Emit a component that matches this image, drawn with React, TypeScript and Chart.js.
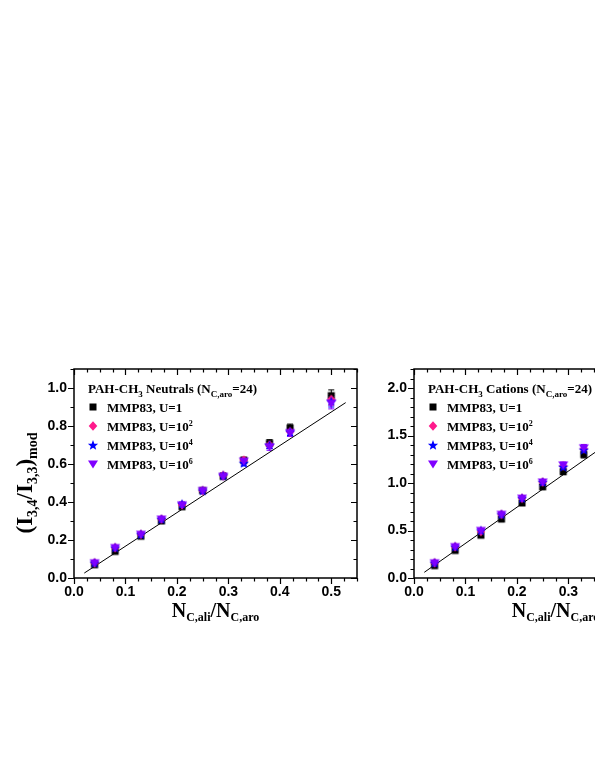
import React, { useEffect, useRef } from "react";
import { Chart, registerables } from "chart.js";
Chart.register(...registerables);

// ---------- data ----------
const xTickValues = [0, 0.1, 0.2, 0.3, 0.4, 0.5];
const xTickLabels = ["0.0", "0.1", "0.2", "0.3", "0.4", "0.5"];
const xMinorStep = 0.025;

const yTickValuesNeutral = [0, 0.2, 0.4, 0.6, 0.8, 1.0];
const yTickLabelsNeutral = ["0.0", "0.2", "0.4", "0.6", "0.8", "1.0"];
const yMinorStepNeutral = 0.1;

const yTickValuesCation = [0, 0.5, 1.0, 1.5, 2.0];
const yTickLabelsCation = ["0.0", "0.5", "1.0", "1.5", "2.0"];
const yMinorStepCation = 0.1;

const seriesNames = ["MMP83, U=1", "MMP83, U=10", "MMP83, U=10", "MMP83, U=10"];
const seriesSup = ["", "2", "4", "6"];
const seriesColors = ["#000000", "#ff1a8c", "#0000ff", "#8000ff"];
const seriesShapes = ["square", "diamond", "star", "tri"];

// Neutrals panel
const neutralX = [0.04, 0.08, 0.13, 0.17, 0.21, 0.25, 0.29, 0.33, 0.38, 0.42, 0.5];
const neutralU1 = [0.07, 0.14, 0.22, 0.3, 0.375, 0.46, 0.535, 0.62, 0.71, 0.79, 0.96];
const neutralU2 = [0.08, 0.16, 0.23, 0.31, 0.385, 0.46, 0.54, 0.62, 0.7, 0.77, 0.94];
const neutralU4 = [0.08, 0.16, 0.23, 0.31, 0.39, 0.46, 0.54, 0.605, 0.7, 0.77, 0.93];
const neutralU6 = [0.08, 0.16, 0.23, 0.31, 0.385, 0.46, 0.535, 0.615, 0.69, 0.765, 0.92];
const neutralErr = [0.006, 0.007, 0.008, 0.009, 0.01, 0.011, 0.012, 0.015, 0.018, 0.02, 0.03];
const neutralFitX = [0.02, 0.528];
const neutralFitY = [0.026, 0.923];

// Cations panel
const cationX = [0.04, 0.08, 0.13, 0.17, 0.21, 0.25, 0.29, 0.33];
const cationU1 = [0.13, 0.29, 0.45, 0.62, 0.79, 0.96, 1.12, 1.3];
const cationU2 = [0.16, 0.33, 0.49, 0.67, 0.84, 1.01, 1.18, 1.36];
const cationU4 = [0.16, 0.33, 0.5, 0.67, 0.84, 1.01, 1.17, 1.35];
const cationU6 = [0.16, 0.33, 0.5, 0.67, 0.84, 1.01, 1.19, 1.37];
const cationErr = [0.012, 0.015, 0.018, 0.02, 0.022, 0.025, 0.03, 0.035];
const cationFitX = [0.02, 0.53];
const cationFitY = [0.06, 2.0];

// ---------- helpers ----------
type Seg = { t: string; s: number; dy: number };
const SERIF = "'Liberation Serif', 'Times New Roman', serif";
const SANS = "'Liberation Sans', Arial, sans-serif";

function richWidth(ctx: CanvasRenderingContext2D, segs: Seg[], fam: string) {
  let w = 0;
  for (const sg of segs) {
    ctx.font = `bold ${sg.s}px ${fam}`;
    w += ctx.measureText(sg.t).width;
  }
  return w;
}
function drawRich(ctx: CanvasRenderingContext2D, segs: Seg[], x: number, y: number, fam: string, align: string) {
  let cx = align === "center" ? x - richWidth(ctx, segs, fam) / 2 : x;
  ctx.textAlign = "left";
  ctx.textBaseline = "alphabetic";
  for (const sg of segs) {
    ctx.font = `bold ${sg.s}px ${fam}`;
    ctx.fillText(sg.t, cx, y + sg.dy);
    cx += ctx.measureText(sg.t).width;
  }
}

function makeMarker(shape: string, color: string): HTMLCanvasElement {
  const c = document.createElement("canvas");
  const S = 14;
  c.width = S;
  c.height = S;
  const g = c.getContext("2d")!;
  g.fillStyle = color;
  const m = S / 2;
  g.beginPath();
  if (shape === "square") {
    g.rect(m - 3.5, m - 3.5, 7, 7);
  } else if (shape === "diamond") {
    g.moveTo(m, m - 4.8);
    g.lineTo(m + 4.3, m);
    g.lineTo(m, m + 4.8);
    g.lineTo(m - 4.3, m);
    g.closePath();
  } else if (shape === "star") {
    for (let k = 0; k < 10; k++) {
      const ang = -Math.PI / 2 + (k * Math.PI) / 5;
      const rr = k % 2 === 0 ? 5.4 : 2.3;
      const px = m + rr * Math.cos(ang);
      const py = m + 0.5 + rr * Math.sin(ang);
      if (k === 0) g.moveTo(px, py);
      else g.lineTo(px, py);
    }
    g.closePath();
  } else {
    g.moveTo(m - 5, m - 3.5);
    g.lineTo(m + 5, m - 3.5);
    g.lineTo(m, m + 4.5);
    g.closePath();
  }
  g.fill();
  return c;
}

type Panel = {
  xs: number[];
  ys: number[][];
  err: number[];
  fitX: number[];
  fitY: number[];
  yMax: number;
  yTicks: number[];
  yLabels: string[];
  yMinor: number;
  legendTitle: Seg[];
  showYTitle: boolean;
};

function buildChart(canvas: HTMLCanvasElement, p: Panel) {
  const markers = seriesColors.map((c, i) => makeMarker(seriesShapes[i], c));
  const datasets: any[] = [
    {
      type: "line",
      data: p.fitX.map((x, i) => ({ x, y: p.fitY[i] })),
      borderColor: "#000",
      borderWidth: 1,
      pointRadius: 0,
      showLine: true,
      fill: false,
      order: 5,
    },
  ];
  p.ys.forEach((ys, si) => {
    datasets.push({
      type: "scatter",
      data: p.xs.map((x, i) => ({ x, y: ys[i] })),
      pointStyle: markers[si],
      pointRadius: 5,
      backgroundColor: seriesColors[si],
      borderColor: seriesColors[si],
      order: 4 - si,
      errs: p.err,
    });
  });

  const plugin = {
    id: "decor",
    beforeDatasetsDraw(chart: any) {
      const ctx = chart.ctx;
      const ys = chart.scales.y;
      ctx.save();
      chart.data.datasets.forEach((ds: any, di: number) => {
        if (!ds.errs) return;
        const meta = chart.getDatasetMeta(di);
        meta.data.forEach((pt: any, i: number) => {
          const v = ds.data[i].y;
          const e = ds.errs[i];
          const y1 = ys.getPixelForValue(v - e);
          const y2 = ys.getPixelForValue(v + e);
          ctx.strokeStyle = ds.borderColor;
          ctx.lineWidth = 1;
          ctx.beginPath();
          ctx.moveTo(pt.x, y1);
          ctx.lineTo(pt.x, y2);
          ctx.moveTo(pt.x - 3, y1);
          ctx.lineTo(pt.x + 3, y1);
          ctx.moveTo(pt.x - 3, y2);
          ctx.lineTo(pt.x + 3, y2);
          ctx.stroke();
        });
      });
      ctx.restore();
    },
    afterDraw(chart: any) {
      const ctx = chart.ctx;
      const xs = chart.scales.x;
      const ysc = chart.scales.y;
      const { left, right, top, bottom } = chart.chartArea;
      ctx.save();
      ctx.strokeStyle = "#000";
      ctx.lineWidth = 1.5;
      ctx.strokeRect(left, top, right - left, bottom - top);
      ctx.lineWidth = 1.2;
      const MAJ = 6;
      const MIN = 3.5;
      ctx.beginPath();
      // x ticks
      const xmin = xs.min, xmax = xs.max;
      for (let k = 0; xmin + k * xMinorStep <= xmax + 1e-9; k++) {
        const v = xmin + k * xMinorStep;
        const isMaj = xTickValues.some((t) => Math.abs(t - v) < 1e-6);
        const L = isMaj ? MAJ : MIN;
        const px = Math.round(xs.getPixelForValue(v)) + 0.5;
        ctx.moveTo(px, bottom);
        ctx.lineTo(px, bottom + L);
        ctx.moveTo(px, top);
        ctx.lineTo(px, top + L);
      }
      // y ticks
      for (let k = 0; k * p.yMinor <= p.yMax + 1e-9; k++) {
        const v = k * p.yMinor;
        const isMaj = p.yTicks.some((t) => Math.abs(t - v) < 1e-6);
        const L = isMaj ? MAJ : MIN;
        const py = Math.round(ysc.getPixelForValue(v)) + 0.5;
        ctx.moveTo(left, py);
        ctx.lineTo(left - L, py);
        ctx.moveTo(right, py);
        ctx.lineTo(right - L, py);
      }
      ctx.stroke();

      ctx.fillStyle = "#000";
      // x title
      const xt: Seg[] = [
        { t: "N", s: 20, dy: 0 },
        { t: "C,ali", s: 12, dy: 4 },
        { t: "/N", s: 20, dy: 0 },
        { t: "C,aro", s: 12, dy: 4 },
      ];
      drawRich(ctx, xt, (left + right) / 2, bottom + 39, SERIF, "center");

      // y title
      if (p.showYTitle) {
        const yt: Seg[] = [
          { t: "(I", s: 23, dy: 0 },
          { t: "3,4", s: 14, dy: 5 },
          { t: "/I", s: 23, dy: 0 },
          { t: "3,3", s: 14, dy: 5 },
          { t: ")", s: 23, dy: 0 },
          { t: "mod", s: 14, dy: 5 },
        ];
        ctx.save();
        ctx.translate(left - 42, top + 114);
        ctx.rotate(-Math.PI / 2);
        drawRich(ctx, yt, 0, 0, SERIF, "center");
        ctx.restore();
      }

      // legend
      const lx = left + 14;
      drawRich(ctx, p.legendTitle, lx, top + 19 + 4.5, SERIF, "left");
      seriesNames.forEach((nm, i) => {
        const cy = top + 19 + 19 * (i + 1);
        ctx.drawImage(markers[i], lx + 5 - 7, cy - 7);
        const segs: Seg[] = [{ t: nm, s: 13, dy: 0 }];
        if (seriesSup[i]) segs.push({ t: seriesSup[i], s: 8, dy: -5 });
        drawRich(ctx, segs, lx + 19, cy + 4.5, SERIF, "left");
      });
      ctx.restore();
    },
  };

  const tickFont = { family: SANS, weight: "bold" as const, size: 14 };
  return new Chart(canvas, {
    type: "scatter",
    data: { datasets },
    plugins: [plugin],
    options: {
      animation: false,
      responsive: false,
      devicePixelRatio: 1,
      layout: { padding: { top: 39, right: 23, left: 0, bottom: 0 } },
      plugins: { legend: { display: false }, tooltip: { enabled: false } },
      scales: {
        x: {
          type: "linear",
          min: 0,
          max: 0.55,
          grid: { display: false, drawTicks: false },
          border: { display: false },
          afterBuildTicks: (s: any) => {
            s.ticks = xTickValues.map((v) => ({ value: v }));
          },
          afterFit: (s: any) => {
            s.height = 62;
          },
          ticks: {
            callback: (_v: any, i: number) => xTickLabels[i],
            font: tickFont,
            color: "#000",
            padding: 6,
            maxRotation: 0,
            autoSkip: false,
          },
        },
        y: {
          type: "linear",
          min: 0,
          max: p.yMax,
          grid: { display: false, drawTicks: false },
          border: { display: false },
          afterBuildTicks: (s: any) => {
            s.ticks = p.yTicks.map((v) => ({ value: v }));
          },
          afterFit: (s: any) => {
            s.width = 74;
          },
          ticks: {
            callback: (_v: any, i: number) => p.yLabels[i],
            font: tickFont,
            color: "#000",
            padding: 7,
            autoSkip: false,
          },
        },
      },
    } as any,
  });
}

export default function App() {
  const leftRef = useRef<HTMLCanvasElement>(null);
  const rightRef = useRef<HTMLCanvasElement>(null);

  useEffect(() => {
    const c1 = buildChart(leftRef.current!, {
      xs: neutralX,
      ys: [neutralU1, neutralU2, neutralU4, neutralU6],
      err: neutralErr,
      fitX: neutralFitX,
      fitY: neutralFitY,
      yMax: 1.1,
      yTicks: yTickValuesNeutral,
      yLabels: yTickLabelsNeutral,
      yMinor: yMinorStepNeutral,
      legendTitle: [
        { t: "PAH-CH", s: 13, dy: 0 },
        { t: "3", s: 9, dy: 4 },
        { t: " Neutrals (N", s: 13, dy: 0 },
        { t: "C,aro", s: 9, dy: 4 },
        { t: "=24)", s: 13, dy: 0 },
      ],
      showYTitle: true,
    });
    const c2 = buildChart(rightRef.current!, {
      xs: cationX,
      ys: [cationU1, cationU2, cationU4, cationU6],
      err: cationErr,
      fitX: cationFitX,
      fitY: cationFitY,
      yMax: 2.2,
      yTicks: yTickValuesCation,
      yLabels: yTickLabelsCation,
      yMinor: yMinorStepCation,
      legendTitle: [
        { t: "PAH-CH", s: 13, dy: 0 },
        { t: "3", s: 9, dy: 4 },
        { t: " Cations (N", s: 13, dy: 0 },
        { t: "C,aro", s: 9, dy: 4 },
        { t: "=24)", s: 13, dy: 0 },
      ],
      showYTitle: false,
    });
    return () => {
      c1.destroy();
      c2.destroy();
    };
  }, []);

  return (
    <div
      style={{
        position: "absolute",
        left: 0,
        top: 0,
        width: 595,
        height: 770,
        overflow: "hidden",
        background: "#fff",
      }}
    >
      <canvas ref={leftRef} width={380} height={310} style={{ position: "absolute", left: 0, top: 330 }} />
      <canvas ref={rightRef} width={380} height={310} style={{ position: "absolute", left: 340, top: 330 }} />
    </div>
  );
}
